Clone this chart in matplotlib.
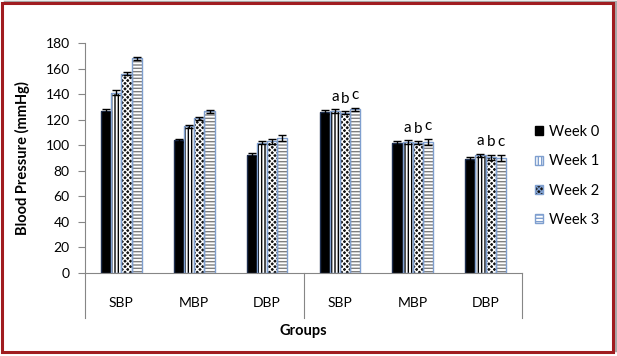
import numpy as np
import matplotlib.pyplot as plt
from matplotlib.patches import Patch, Rectangle

plt.rcParams['font.family'] = ['Lato', 'DejaVu Sans']
plt.rcParams['hatch.linewidth'] = 1.0

# data
groups = ['SBP', 'MBP', 'DBP', 'SBP', 'MBP', 'DBP']
weeks = ['Week 0', 'Week 1', 'Week 2', 'Week 3']
week0 = [127, 104, 92.5, 126, 101.5, 89]
week1 = [141, 115, 102, 126.5, 102.5, 92]
week2 = [156, 121, 103, 125.5, 102, 90.5]
week3 = [168, 126.5, 105.5, 128, 102.5, 90]
err0 = [1.2, 1.2, 1.2, 1.8, 1.8, 1.8]
err1 = [2.0, 1.2, 1.2, 1.5, 1.2, 1.2]
err2 = [1.0, 1.0, 1.8, 1.0, 1.0, 1.8]
err3 = [1.0, 1.2, 2.5, 1.2, 2.5, 2.2]
letters = ['a', 'b', 'c']

values = [week0, week1, week2, week3]
errors = [err0, err1, err2, err3]

# face, hatch, hatch colour
styles = [('black', '', 'black'),
          ('white', '|||||', 'black'),
          ('#111111', 'xxxxxx', 'white'),
          ('white', '-----', '#7f7f7f')]
edge_blue = '#7f9fcf'

fig = plt.figure(figsize=(6.17, 3.56), dpi=100)
ax = fig.add_axes([85 / 617, 1 - 273 / 356, 437 / 617, 230 / 356])

x = np.arange(len(groups)) + 0.5
w = 0.14
for k in range(4):
    pos = x + (k - 1.5) * w
    face, hatch, hc = styles[k]
    ax.bar(pos, values[k], w, color=face, hatch=hatch, edgecolor=hc, linewidth=0, zorder=2)
    ax.bar(pos, values[k], w, fill=False, edgecolor=edge_blue if k else '#1f2f4f',
           linewidth=1.0, zorder=3)
    ax.errorbar(pos, values[k], yerr=errors[k], fmt='none', ecolor='black',
                elinewidth=1, capsize=3, capthick=1, zorder=4)

# significance letters over weeks 1-3 of the second set
for g in range(3, 6):
    for k in range(1, 4):
        px = x[g] + (k - 1.5) * w
        ax.text(px, values[k][g] + errors[k][g] + 10, letters[k - 1],
                ha='center', va='center', fontsize=11)

ax.set_xlim(0, 6)
ax.set_ylim(0, 180)
ax.set_yticks(np.arange(0, 181, 20))
ax.tick_params(axis='y', length=5, width=0.8, color='#868686', labelsize=10, pad=6)
ax.set_xticks(x, groups)
ax.tick_params(axis='x', length=0, labelsize=10, pad=17)
for s in ['top', 'right']:
    ax.spines[s].set_visible(False)
for s in ['left', 'bottom']:
    ax.spines[s].set_color('#868686')
    ax.spines[s].set_linewidth(0.8)

# category divider lines below axis
for xv in [0, 3, 6]:
    ax.plot([xv, xv], [0, -0.196], transform=ax.get_xaxis_transform(),
            color='#868686', lw=0.8, clip_on=False)

fig.text(22 / 617, 1 - 158 / 356, 'Blood Pressure (mmHg)', rotation=90,
         ha='center', va='center', fontsize=10.5, fontweight='bold')
fig.text(303 / 617, 1 - 331 / 356, 'Groups', ha='center', va='center',
         fontsize=10.5, fontweight='bold')

handles = [Patch(facecolor=styles[k][0], hatch=styles[k][1],
                 edgecolor='black' if k == 0 else edge_blue) for k in range(4)]
fig.legend(handles, weeks, loc='upper left', bbox_to_anchor=(535 / 617, 1 - 125 / 356),
           frameon=False, fontsize=10.5, handlelength=0.55, handleheight=0.55,
           handletextpad=0.4, labelspacing=1.05, borderpad=0, borderaxespad=0)

# outer frame with shadow
fig.patches.append(Rectangle((5 / 617, 6 / 356), 611 / 617, 348 / 356, transform=fig.transFigure,
                             fill=False, edgecolor='#a8a8a8', lw=2.5, zorder=0))
fig.patches.append(Rectangle((2 / 617, 1 - 352 / 356), 611 / 617, 349 / 356, transform=fig.transFigure,
                             facecolor='white', edgecolor='#a01c20', lw=2.2, zorder=1))
ax.set_zorder(2)
ax.patch.set_alpha(0)

fig.savefig('out.png', dpi=100)
